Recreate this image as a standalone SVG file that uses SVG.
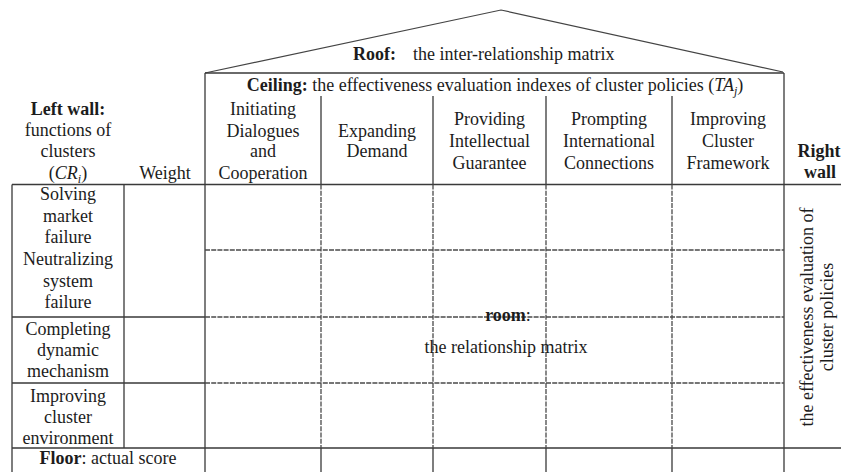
<svg xmlns="http://www.w3.org/2000/svg" width="841" height="472" viewBox="0 0 841 472">
<style>
text{font-family:"Liberation Serif","Times New Roman",serif;font-size:18px;fill:#1c1c1c}
.c{text-anchor:middle}
.b{font-weight:bold}
.i{font-style:italic}
.solid{stroke:#3a3a3a;stroke-width:1.3;fill:none}
.dash{stroke:#4a4a4a;stroke-width:1.3;fill:none;stroke-dasharray:5 1.2}
.roof{stroke:#444;stroke-width:1.2;fill:none}
</style>
<rect width="841" height="472" fill="#fff"/>
<g id="connectors">
  <polyline class="roof" points="205,73 501,10 783,72"/>
  <path class="solid" d="M205,73H784 M205,73V472 M784,73V472 M12,184.5H841 M12,448H841 M12,184.5V472 M124,184.5V448 M12,317H205 M12,383H205"/>
  <path class="solid" d="M321,96V184.5 M433,96V184.5 M546,96V184.5 M672,96V184.5 M321,448V472 M433,448V472 M546,448V472 M672,448V472"/>
  <path class="dash" d="M205,250H784 M205,317H784 M205,383H784 M321,184.5V448 M433,184.5V448 M546,184.5V448 M672,184.5V448"/>
</g>
<g id="roof">
  <text x="353" y="60" class="b">Roof:</text>
  <text x="413" y="60">the inter-relationship matrix</text>
</g>
<g id="ceiling">
  <text x="495" y="91" class="c"><tspan class="b">Ceiling:</tspan> the effectiveness evaluation indexes of cluster policies (<tspan class="i">TA</tspan><tspan class="i" font-size="12" dy="4">j</tspan><tspan dy="-4">)</tspan></text>
</g>
<g id="col1">
  <text class="c" x="263" y="115">Initiating</text>
  <text class="c" x="263" y="136.7">Dialogues</text>
  <text class="c" x="263" y="157.3">and</text>
  <text class="c" x="263" y="179">Cooperation</text>
</g>
<g id="col2">
  <text class="c" x="377" y="136.7">Expanding</text>
  <text class="c" x="377" y="157.3">Demand</text>
</g>
<g id="col3">
  <text class="c" x="489.5" y="125">Providing</text>
  <text class="c" x="489.5" y="147">Intellectual</text>
  <text class="c" x="489.5" y="168.5">Guarantee</text>
</g>
<g id="col4">
  <text class="c" x="609" y="125">Prompting</text>
  <text class="c" x="609" y="147">International</text>
  <text class="c" x="609" y="168.5">Connections</text>
</g>
<g id="col5">
  <text class="c" x="728" y="125">Improving</text>
  <text class="c" x="728" y="147">Cluster</text>
  <text class="c" x="728" y="168.5">Framework</text>
</g>
<g id="left-wall">
  <text class="c b" x="68" y="115">Left wall:</text>
  <text class="c" x="68" y="135.5">functions of</text>
  <text class="c" x="68" y="156.7">clusters</text>
  <text class="c" x="68" y="178.5">(<tspan class="i">CR</tspan><tspan class="i" font-size="12" dy="4">i</tspan><tspan dy="-4">)</tspan></text>
</g>
<g id="weight">
  <text class="c" x="165" y="179">Weight</text>
</g>
<g id="right-wall">
  <text class="b" x="797.5" y="156.7">Right</text>
  <text class="c b" x="820" y="178.3">wall</text>
  <text class="c" transform="translate(812.5,317) rotate(-90)">the effectiveness evaluation of</text>
  <text class="c" transform="translate(833,317) rotate(-90)">cluster policies</text>
</g>
<g id="row1">
  <text class="c" x="68" y="200">Solving</text>
  <text class="c" x="68" y="221.7">market</text>
  <text class="c" x="68" y="243.3">failure</text>
</g>
<g id="row2">
  <text class="c" x="68" y="265">Neutralizing</text>
  <text class="c" x="68" y="286.7">system</text>
  <text class="c" x="68" y="308.3">failure</text>
</g>
<g id="row3">
  <text class="c" x="68" y="334.5">Completing</text>
  <text class="c" x="68" y="355.5">dynamic</text>
  <text class="c" x="68" y="376.7">mechanism</text>
</g>
<g id="row4">
  <text class="c" x="68" y="401.7">Improving</text>
  <text class="c" x="68" y="423">cluster</text>
  <text class="c" x="68" y="444">environment</text>
</g>
<g id="floor">
  <text class="c" x="108" y="464"><tspan class="b">Floor</tspan>: actual score</text>
</g>
<g id="room">
  <text class="c" x="508" y="320.7" font-size="21"><tspan class="b">room</tspan>:</text>
  <text class="c" x="506" y="353.3" font-size="21">the relationship matrix</text>
</g>
</svg>
